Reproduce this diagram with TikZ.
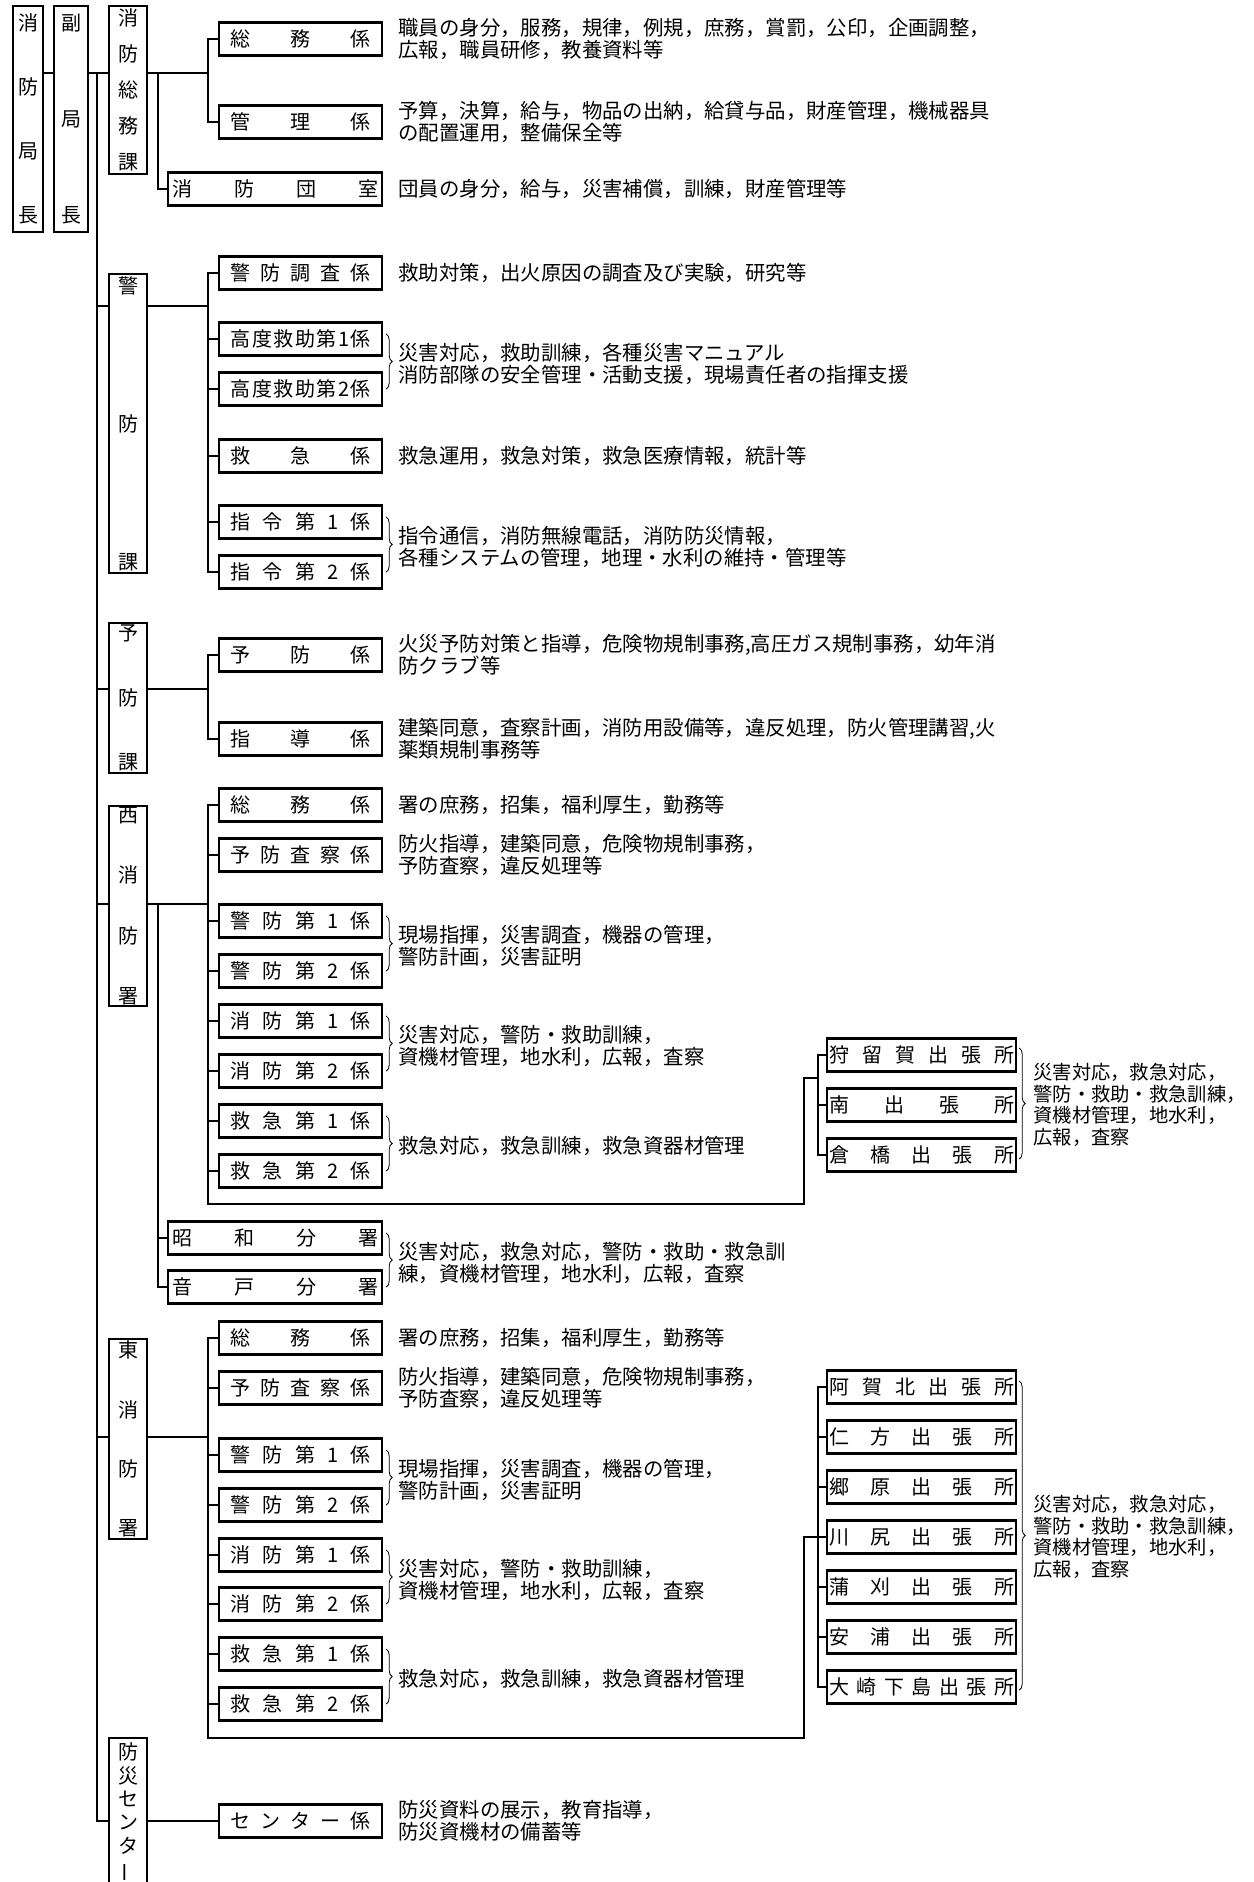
\documentclass[tikz,border=0pt]{standalone}
\usepackage{fontspec}
\setmainfont{Noto Sans CJK JP}
\usepackage{graphicx}
\usetikzlibrary{positioning,calc,decorations.pathreplacing}

\newcommand\dfont{\fontsize{20.4}{22}\selectfont}
\newcommand\sfont{\fontsize{19.3}{21.5}\selectfont}
\newcommand\lblfont{\fontsize{20}{22}\selectfont}
\newcommand\vg{\par\vfill}
\newcommand\tate[2]{\parbox[c][#1][s]{22pt}{\centering #2}}
\newcommand\kwd[1]{\hbox to 140pt{#1}}
\newcommand\bwd[1]{\hbox to 206pt{#1}}
\newcommand\swd[1]{\hbox to 185pt{#1}}

\tikzset{
  ln/.style={line width=1.7pt,line cap=rect},
  tatebox/.style={draw,line width=2.2pt,inner sep=0pt,anchor=north west,font=\lblfont},
  kakari/.style={draw,line width=2.2pt,minimum height=33pt,inner xsep=11.5pt,inner ysep=0pt,anchor=west,font=\lblfont},
  bunsho/.style={kakari,inner xsep=4pt},
  shutcho/.style={kakari,inner xsep=2pt},
  desc/.style={anchor=west,inner sep=0pt,align=left,font=\dfont},
  brc/.style={decorate,decoration={brace,amplitude=6pt},line width=0.8pt},
}

\begin{document}
\begin{tikzpicture}[x=1pt,y=-1pt]
\useasboundingbox (0,0) rectangle (1253,1882);
\clip (0,0) rectangle (1253,1882);

% chief and vice chief
\node[tatebox,minimum width=30pt,minimum height=226pt] (chief) at (12,5) {\tate{209pt}{消\vg 防\vg 局\vg 長}};
\node[tatebox,minimum width=34pt,minimum height=226pt] (vice) at (53,5) {\tate{209pt}{副\vg 局\vg 長}};

% divisions
\node[tatebox,minimum width=38pt,minimum height=168pt] (soumuka) at (108,5) {\tate{161pt}{消\vg 防\vg 総\vg 務\vg 課}};
\node[tatebox,minimum width=38pt,minimum height=299pt] (keibou) at (108,273) {\tate{293pt}{警\vg 防\vg 課}};
\node[tatebox,minimum width=38pt,minimum height=150pt] (yobou) at (108,622) {\tate{145pt}{予\vg 防\vg 課}};
\node[tatebox,minimum width=38pt,minimum height=200pt] (nishi) at (108,805) {\tate{196pt}{西\vg 消\vg 防\vg 署}};
\node[tatebox,minimum width=38pt,minimum height=200pt] (higashi) at (108,1338) {\tate{195pt}{東\vg 消\vg 防\vg 署}};
\node[tatebox,minimum width=38pt,minimum height=170pt] (bousai) at (108,1737) {\parbox[c][160pt][t]{22pt}{\centering\baselineskip=23.3pt 防\\災\\セ\\ン\\タ\\\rotatebox[origin=c]{90}{ー}}};

% soumu
\node[kakari] (gsomu) at (218,39) {\kwd{総\hfil 務\hfil 係}};
\node[kakari] (gkanri) at (218,122) {\kwd{管\hfil 理\hfil 係}};
\node[bunsho] (dan) at (167,189) {\bwd{消\hfil 防\hfil 団\hfil 室}};

% keibou
\node[kakari] (kc) at (218,273) {\kwd{警\hfil 防\hfil 調\hfil 査\hfil 係}};
\node[kakari] (k1) at (218,339) {\kwd{高\hfil 度\hfil 救\hfil 助\hfil 第\hfil 1\hfil 係}};
\node[kakari] (k2) at (218,389) {\kwd{高\hfil 度\hfil 救\hfil 助\hfil 第\hfil 2\hfil 係}};
\node[kakari] (kq) at (218,456) {\kwd{救\hfil 急\hfil 係}};
\node[kakari] (s1) at (218,522) {\kwd{指\hfil 令\hfil 第\hfil 1\hfil 係}};
\node[kakari] (s2) at (218,572) {\kwd{指\hfil 令\hfil 第\hfil 2\hfil 係}};

% yobou
\node[kakari] (yb) at (218,655) {\kwd{予\hfil 防\hfil 係}};
\node[kakari] (yd) at (218,739) {\kwd{指\hfil 導\hfil 係}};

% west station
\node[kakari] (ws) at (218,805) {\kwd{総\hfil 務\hfil 係}};
\node[kakari] (wy) at (218,855) {\kwd{予\hfil 防\hfil 査\hfil 察\hfil 係}};
\node[kakari] (wk1) at (218,921) {\kwd{警\hfil 防\hfil 第\hfil 1\hfil 係}};
\node[kakari] (wk2) at (218,971) {\kwd{警\hfil 防\hfil 第\hfil 2\hfil 係}};
\node[kakari] (wf1) at (218,1021) {\kwd{消\hfil 防\hfil 第\hfil 1\hfil 係}};
\node[kakari] (wf2) at (218,1071) {\kwd{消\hfil 防\hfil 第\hfil 2\hfil 係}};
\node[kakari] (wq1) at (218,1121) {\kwd{救\hfil 急\hfil 第\hfil 1\hfil 係}};
\node[kakari] (wq2) at (218,1171) {\kwd{救\hfil 急\hfil 第\hfil 2\hfil 係}};
\node[bunsho] (sh) at (167,1238) {\bwd{昭\hfil 和\hfil 分\hfil 署}};
\node[bunsho] (ot) at (167,1287) {\bwd{音\hfil 戸\hfil 分\hfil 署}};
\node[shutcho] (ka) at (826,1055) {\swd{狩\hfil 留\hfil 賀\hfil 出\hfil 張\hfil 所}};
\node[shutcho] (mi) at (826,1105) {\swd{南\hfil 出\hfil 張\hfil 所}};
\node[shutcho] (kr) at (826,1155) {\swd{倉\hfil 橋\hfil 出\hfil 張\hfil 所}};

% east station
\node[kakari] (es) at (218,1338) {\kwd{総\hfil 務\hfil 係}};
\node[kakari] (ey) at (218,1388) {\kwd{予\hfil 防\hfil 査\hfil 察\hfil 係}};
\node[kakari] (ek1) at (218,1455) {\kwd{警\hfil 防\hfil 第\hfil 1\hfil 係}};
\node[kakari] (ek2) at (218,1505) {\kwd{警\hfil 防\hfil 第\hfil 2\hfil 係}};
\node[kakari] (ef1) at (218,1555) {\kwd{消\hfil 防\hfil 第\hfil 1\hfil 係}};
\node[kakari] (ef2) at (218,1604) {\kwd{消\hfil 防\hfil 第\hfil 2\hfil 係}};
\node[kakari] (eq1) at (218,1654) {\kwd{救\hfil 急\hfil 第\hfil 1\hfil 係}};
\node[kakari] (eq2) at (218,1704) {\kwd{救\hfil 急\hfil 第\hfil 2\hfil 係}};
\node[shutcho] (aga) at (826,1387) {\swd{阿\hfil 賀\hfil 北\hfil 出\hfil 張\hfil 所}};
\node[shutcho] (nig) at (826,1437) {\swd{仁\hfil 方\hfil 出\hfil 張\hfil 所}};
\node[shutcho] (gou) at (826,1487) {\swd{郷\hfil 原\hfil 出\hfil 張\hfil 所}};
\node[shutcho] (kaw) at (826,1537) {\swd{川\hfil 尻\hfil 出\hfil 張\hfil 所}};
\node[shutcho] (kam) at (826,1587) {\swd{蒲\hfil 刈\hfil 出\hfil 張\hfil 所}};
\node[shutcho] (yas) at (826,1637) {\swd{安\hfil 浦\hfil 出\hfil 張\hfil 所}};
\node[shutcho] (osa) at (826,1687) {\swd{大\hfil 崎\hfil 下\hfil 島\hfil 出\hfil 張\hfil 所}};

% bousai center
\node[kakari] (ctr) at (218,1821) {\kwd{セ\hfil ン\hfil タ\hfil ー\hfil 係}};

% duties
\node[desc,right=15pt of gsomu] (dgsomu) {職員の身分，服務，規律，例規，庶務，賞罰，公印，企画調整，\\広報，職員研修，教養資料等};
\node[desc,right=15pt of gkanri] (dgkanri) {予算，決算，給与，物品の出納，給貸与品，財産管理，機械器具\\の配置運用，整備保全等};
\node[desc,right=15pt of dan] (ddan) {団員の身分，給与，災害補償，訓練，財産管理等};
\node[desc,right=15pt of kc] (dkc) {救助対策，出火原因の調査及び実験，研究等};
\node[desc] (dk12) at ($(k1.east)!.5!(k2.east)+(15,0)$) {災害対応，救助訓練，各種災害マニュアル\\消防部隊の安全管理・活動支援，現場責任者の指揮支援};
\node[desc,right=15pt of kq] (dkq) {救急運用，救急対策，救急医療情報，統計等};
\node[desc] (ds12) at ($(s1.east)!.5!(s2.east)+(15,0)$) {指令通信，消防無線電話，消防防災情報，\\各種システムの管理，地理・水利の維持・管理等};
\node[desc,right=15pt of yb] (dyb) {火災予防対策と指導，危険物規制事務,高圧ガス規制事務，幼年消\\防クラブ等};
\node[desc,right=15pt of yd] (dyd) {建築同意，査察計画，消防用設備等，違反処理，防火管理講習,火\\薬類規制事務等};

\node[desc,right=15pt of ws] (dws) {署の庶務，招集，福利厚生，勤務等};
\node[desc,right=15pt of wy] (dwy) {防火指導，建築同意，危険物規制事務，\\予防査察，違反処理等};
\node[desc] (dwk) at ($(wk1.east)!.5!(wk2.east)+(15,0)$) {現場指揮，災害調査，機器の管理，\\警防計画，災害証明};
\node[desc] (dwf) at ($(wf1.east)!.5!(wf2.east)+(15,0)$) {災害対応，警防・救助訓練，\\資機材管理，地水利，広報，査察};
\node[desc] (dwq) at ($(wq1.east)!.5!(wq2.east)+(15,0)$) {救急対応，救急訓練，救急資器材管理};
\node[desc] (dbun) at ($(sh.east)!.5!(ot.east)+(15,0)$) {災害対応，救急対応，警防・救助・救急訓\\練，資機材管理，地水利，広報，査察};
\node[desc,font=\sfont] (dwsh) at ($(ka.east)!.5!(kr.east)+(16,0)$) {災害対応，救急対応，\\警防・救助・救急訓練，\\資機材管理，地水利，\\広報，査察};

\node[desc,right=15pt of es] (des) {署の庶務，招集，福利厚生，勤務等};
\node[desc,right=15pt of ey] (dey) {防火指導，建築同意，危険物規制事務，\\予防査察，違反処理等};
\node[desc] (dek) at ($(ek1.east)!.5!(ek2.east)+(15,0)$) {現場指揮，災害調査，機器の管理，\\警防計画，災害証明};
\node[desc] (def) at ($(ef1.east)!.5!(ef2.east)+(15,0)$) {災害対応，警防・救助訓練，\\資機材管理，地水利，広報，査察};
\node[desc] (deq) at ($(eq1.east)!.5!(eq2.east)+(15,0)$) {救急対応，救急訓練，救急資器材管理};
\node[desc,font=\sfont] (desh) at ($(aga.east)!.5!(osa.east)+(16,0)$) {災害対応，救急対応，\\警防・救助・救急訓練，\\資機材管理，地水利，\\広報，査察};
\node[desc,right=15pt of ctr] (dctr) {防災資料の展示，教育指導，\\防災資機材の備蓄等};

% braces
\draw[brc] ([shift={(3,-5)}]k1.east) -- ([shift={(3,0)}]k2.east);
\draw[brc] ([shift={(3,-5)}]s1.east) -- ([shift={(3,0)}]s2.east);
\draw[brc] ([shift={(3,-5)}]wk1.east) -- ([shift={(3,0)}]wk2.east);
\draw[brc] ([shift={(3,-5)}]wf1.east) -- ([shift={(3,0)}]wf2.east);
\draw[brc] ([shift={(3,-5)}]wq1.east) -- ([shift={(3,0)}]wq2.east);
\draw[brc] ([shift={(3,-5)}]sh.east) -- ([shift={(3,0)}]ot.east);
\draw[brc] ([shift={(3,-5)}]ek1.east) -- ([shift={(3,0)}]ek2.east);
\draw[brc] ([shift={(3,-5)}]ef1.east) -- ([shift={(3,0)}]ef2.east);
\draw[brc] ([shift={(3,-5)}]eq1.east) -- ([shift={(3,0)}]eq2.east);
\draw[brc] ([shift={(2,-7)}]ka.east) -- ([shift={(2,4)}]kr.east);
\draw[brc] ([shift={(2,-6)}]aga.east) -- ([shift={(2,3)}]osa.east);

% junctions
\coordinate (trk) at (97,73);
\coordinate (busS) at (208,73);
\coordinate (busD) at (158,73);
\coordinate (busK) at (208,306);
\coordinate (busY) at (208,689);
\coordinate (busW) at (208,904);
\coordinate (busB) at (158,904);
\coordinate (wlow) at (208,1204);
\coordinate (wjx) at (804,1078);
\coordinate (wsb) at (818,1078);
\coordinate (busE) at (208,1437);
\coordinate (elow) at (208,1738);
\coordinate (ejx) at (804,1537);
\coordinate (esb) at (818,1537);

% trunk
\draw[ln] (chief.east |- trk) -- (vice.west |- trk);
\draw[ln] (vice.east |- trk) -- (soumuka.west |- trk);
\draw[ln] (trk) -- (trk |- ctr.west);

% soumu lines
\draw[ln] (soumuka.east |- busS) -- (busS);
\draw[ln] (busS |- gsomu.west) -- (busS |- gkanri.west);
\foreach \n in {gsomu,gkanri} \draw[ln] (busS |- \n.west) -- (\n.west);
\draw[ln] (busD) -- (busD |- dan.west) -- (dan.west);

% keibou lines
\draw[ln] (trk |- busK) -- (keibou.west |- busK);
\draw[ln] (keibou.east |- busK) -- (busK);
\draw[ln] (busK |- kc.west) -- (busK |- s2.west);
\foreach \n in {kc,k1,k2,kq,s1,s2} \draw[ln] (busK |- \n.west) -- (\n.west);

% yobou lines
\draw[ln] (trk |- busY) -- (yobou.west |- busY);
\draw[ln] (yobou.east |- busY) -- (busY);
\draw[ln] (busY |- yb.west) -- (busY |- yd.west);
\foreach \n in {yb,yd} \draw[ln] (busY |- \n.west) -- (\n.west);

% west lines
\draw[ln] (trk |- busW) -- (nishi.west |- busW);
\draw[ln] (nishi.east |- busW) -- (busW);
\draw[ln] (busW |- ws.west) -- (wlow) -| (wjx) -- (wsb);
\foreach \n in {ws,wy,wk1,wk2,wf1,wf2,wq1,wq2} \draw[ln] (busW |- \n.west) -- (\n.west);
\draw[ln] (busB) -- (busB |- ot.west) -- (ot.west);
\draw[ln] (busB |- sh.west) -- (sh.west);
\draw[ln] (wsb |- ka.west) -- (wsb |- kr.west);
\foreach \n in {ka,mi,kr} \draw[ln] (wsb |- \n.west) -- (\n.west);

% east lines
\draw[ln] (trk |- busE) -- (higashi.west |- busE);
\draw[ln] (higashi.east |- busE) -- (busE);
\draw[ln] (busE |- es.west) -- (elow) -| (ejx) -- (esb);
\foreach \n in {es,ey,ek1,ek2,ef1,ef2,eq1,eq2} \draw[ln] (busE |- \n.west) -- (\n.west);
\draw[ln] (esb |- aga.west) -- (esb |- osa.west);
\foreach \n in {aga,nig,gou,kaw,kam,yas,osa} \draw[ln] (esb |- \n.west) -- (\n.west);

% bousai lines
\draw[ln] (trk |- ctr.west) -- (bousai.west |- ctr.west);
\draw[ln] (bousai.east |- ctr.west) -- (ctr.west);
\end{tikzpicture}
\end{document}
